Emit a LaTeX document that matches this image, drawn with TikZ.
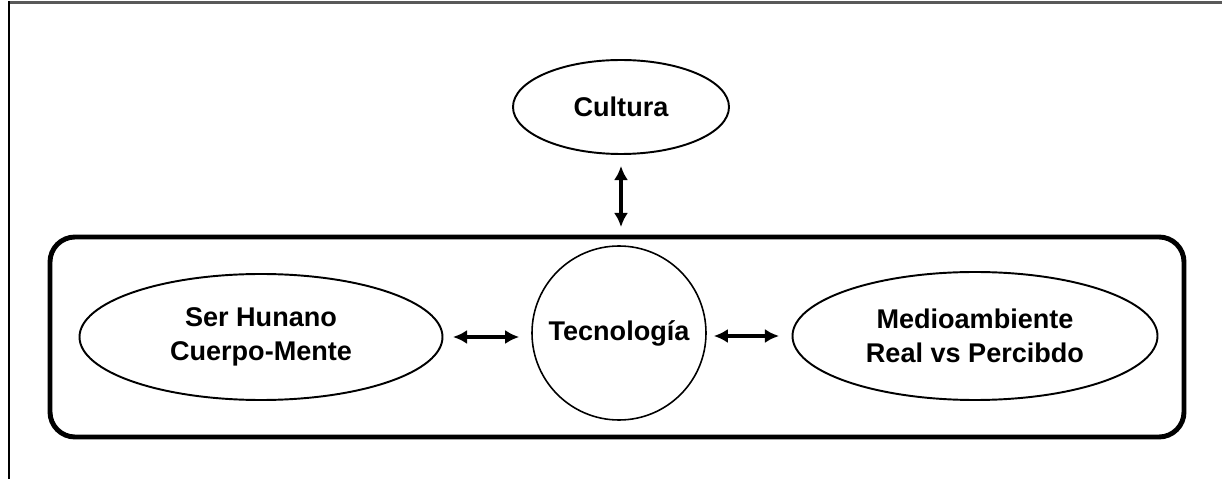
\documentclass[tikz,border=0pt]{standalone}
\usepackage{fontspec}
\setmainfont{Liberation Sans}
\usetikzlibrary{shapes.geometric,arrows.meta}

\begin{document}
\begin{tikzpicture}[
                    >={Latex[length=8pt,width=8pt]},
                    idea/.style={draw, ellipse, line width=1.1pt, inner sep=0pt,
                                 align=center, font=\bfseries\fontsize{15.4}{19.5}\selectfont},
                    link/.style={<->, line width=2pt}]

                \useasboundingbox (0,0) rectangle (24.44,9.58);
                \draw[gray!70!black, line width=1.7pt] (0.18,9.53) -- (24.44,9.53);
                \draw[line width=1.1pt] (0.18,9.55) -- (0.18,0);

                \draw(12.34,2.84) node[draw, line width=2.8pt, rounded corners=0.5cm,
                      minimum width=22.68cm, minimum height=4cm] (env) {};

                \draw(12.42,7.44) node[idea, minimum width=4.32cm, minimum height=1.88cm] (cult) {Cultura};
                \draw(12.38,2.92) node[idea, circle, line width=0.9pt, minimum size=3.48cm] (tec) {Tecnología};
                \draw(5.22,2.84) node[idea, minimum width=7.26cm, minimum height=2.52cm] (ser) {Ser Hunano\\Cuerpo-Mente};
                \draw(19.5,2.86) node[idea, minimum width=7.3cm, minimum height=2.56cm] (med) {Medioambiente\\Real vs Percibdo};

                \draw[link, shorten <=0.22cm, shorten >=0.15cm] (cult.south) to (env.north -| cult.south);
                \draw[link, shorten <=0.19cm, shorten >=0.24cm] (ser.east) to (ser.east -| tec.west);
                \draw[link, shorten <=0.14cm, shorten >=0.25cm] (tec.east |- med.west) to (med.west);

            \end{tikzpicture}
\end{document}
